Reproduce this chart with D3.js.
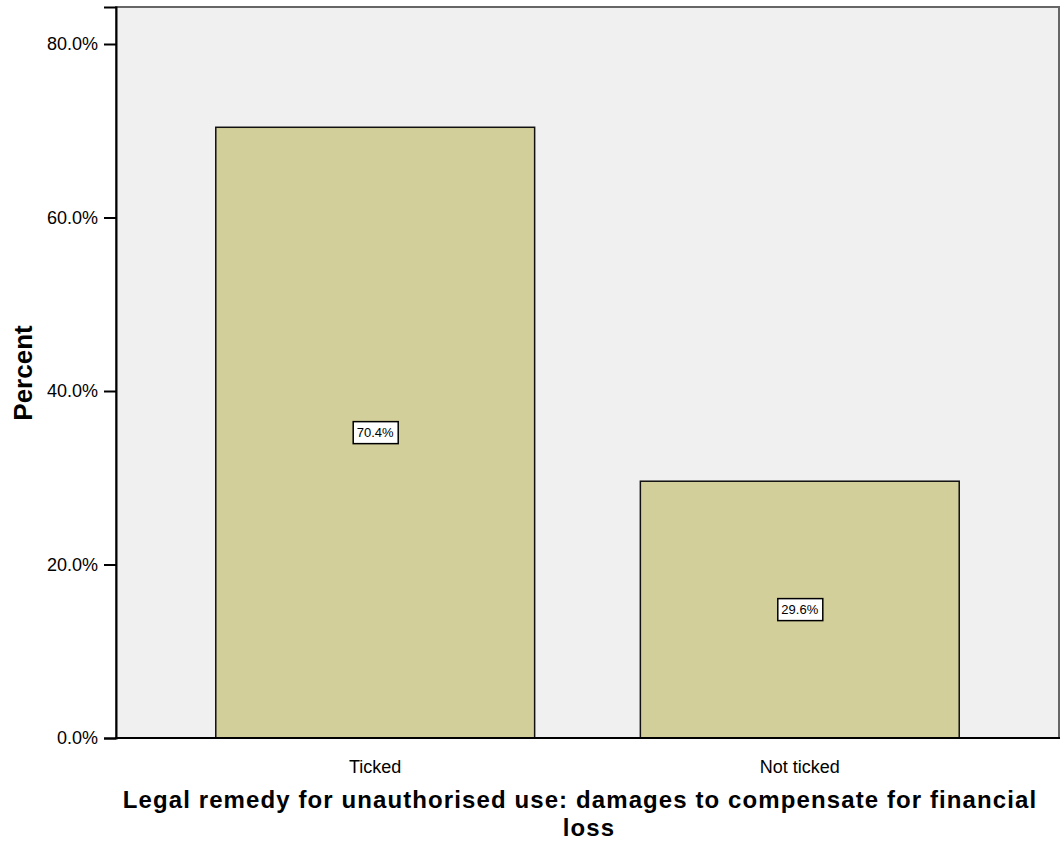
<!DOCTYPE html>
<html><head><meta charset="utf-8">
<script src="https://cdn.jsdelivr.net/npm/d3@7"></script>
<style>body{margin:0;background:#fff}svg{display:block;font-family:"Liberation Sans",Arial,sans-serif}</style>
</head><body>
<svg id="c" width="1064" height="843"></svg>
<script>
const categories = ["Ticked", "Not ticked"];
const values = [70.4, 29.6];
const yTicks = [0, 20, 40, 60, 80];

const svg = d3.select("#c");
const L = 116, R = 1059, T = 7, B = 738;
const x = d3.scaleBand().domain(categories).range([L, R]).paddingInner(0.249).paddingOuter(0.235);
const y = d3.scaleLinear().domain([0, (B - T) / ((B - 44) / 80)]).range([B, T]);

svg.append("rect").attr("x", L).attr("y", T).attr("width", R - L).attr("height", B - T)
  .attr("fill", "#f0f0f0").attr("stroke", "#666").attr("stroke-width", 2);

svg.selectAll("rect.bar").data(values).join("rect").attr("class", "bar")
  .attr("x", (d, i) => x(categories[i])).attr("width", x.bandwidth())
  .attr("y", d => y(d)).attr("height", d => y(0) - y(d))
  .attr("fill", "#d3cf9a").attr("stroke", "#111").attr("stroke-width", 1.5);

const yAxis = svg.append("g").attr("transform", `translate(${L},0)`)
  .call(d3.axisLeft(y).tickValues(yTicks).tickFormat(d => d.toFixed(1) + "%").tickSize(12).tickPadding(6));
yAxis.select(".domain").attr("stroke", "#000").attr("stroke-width", 2);
yAxis.selectAll(".tick line").attr("stroke", "#000").attr("stroke-width", 2);
yAxis.selectAll(".tick text").attr("font-size", 18).attr("fill", "#000").attr("font-family", "Liberation Sans, Arial, sans-serif");

const xAxis = svg.append("g").attr("transform", `translate(0,${B})`)
  .call(d3.axisBottom(x).tickSize(0).tickPadding(22));
xAxis.select(".domain").attr("stroke", "#000").attr("stroke-width", 2).attr("d", `M${L - 1},0H${R + 1}`);
xAxis.selectAll(".tick text").attr("font-size", 18).attr("fill", "#000").attr("font-family", "Liberation Sans, Arial, sans-serif");

// value labels
const lab = svg.selectAll("g.lab").data(values).join("g").attr("class", "lab")
  .attr("transform", (d, i) => `translate(${x(categories[i]) + x.bandwidth() / 2},${y(d / 2)})`);
lab.append("rect").attr("x", -22).attr("y", -11).attr("width", 45).attr("height", 22)
  .attr("fill", "#fff").attr("stroke", "#000").attr("stroke-width", 1.5);
lab.append("text").attr("text-anchor", "middle").attr("dy", "0.36em").attr("font-size", 13)
  .text(d => d.toFixed(1) + "%");

// axis titles
svg.append("text").attr("text-anchor", "middle").attr("font-size", 24).attr("font-weight", "bold")
  .attr("letter-spacing", 1.1).attr("x", 580).attr("y", 808)
  .text("Legal remedy for unauthorised use: damages to compensate for financial");
svg.append("text").attr("text-anchor", "middle").attr("font-size", 24).attr("font-weight", "bold")
  .attr("letter-spacing", 1.1).attr("x", 589).attr("y", 836).text("loss");

svg.append("text").attr("text-anchor", "middle").attr("font-size", 26).attr("font-weight", "bold")
  .attr("transform", `translate(32,373) rotate(-90)`).text("Percent");
</script>
</body></html>
